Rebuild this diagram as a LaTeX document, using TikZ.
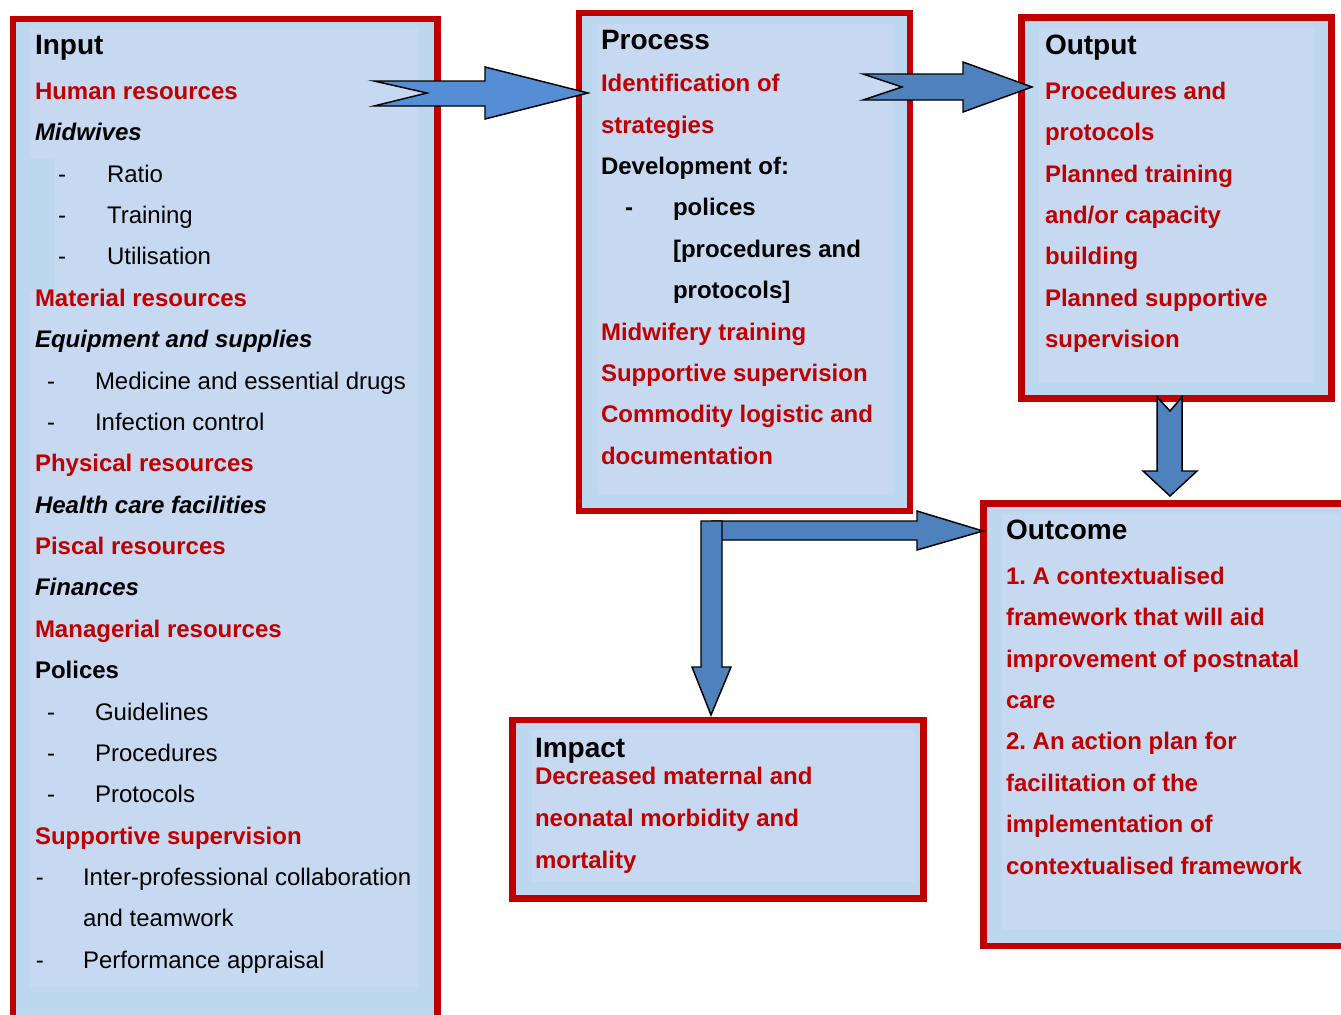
\documentclass[tikz,border=0pt]{standalone}
\usepackage{fontspec}
\setmainfont{Liberation Sans}
\frenchspacing
\definecolor{framered}{HTML}{C00000}
\definecolor{boxfill}{HTML}{BDD7EE}
\definecolor{panelfill}{HTML}{C6D9F0}
\definecolor{arrowlight}{HTML}{558ED5}
\definecolor{arrowblue}{HTML}{4F81BD}
\definecolor{txtred}{HTML}{C00000}

\tikzset{
  frame/.style={draw=framered, line width=4.9pt, fill=boxfill},
  panel/.style={fill=panelfill, draw=none},
  blockarrow/.style={draw=black, line width=1.1pt, line join=miter},
  txt/.style={anchor=base west, inner sep=0pt, outer sep=0pt, font=\fontsize{18}{21.6}\selectfont\frenchspacing},
  boxtitle/.style={txt, font=\fontsize{21}{25}\selectfont\bfseries},
  redline/.style={txt, text=txtred, font=\fontsize{18}{21.6}\selectfont\bfseries\frenchspacing},
  subhead/.style={txt, font=\fontsize{18}{21.6}\selectfont\bfseries\itshape},
  boldline/.style={txt, font=\fontsize{18}{21.6}\selectfont\bfseries},
}

\begin{document}
\begin{tikzpicture}[x=0.75pt, y=-0.75pt]
\useasboundingbox (0,0) rectangle (1341,1014);
\clip (0,0) rectangle (1341,1014);

% ---------- frames ----------
\draw[frame] (13,19) rectangle (437.5,1040);
\draw[frame] (579,13) rectangle (910,511);
\draw[frame] (1021.5,17.5) rectangle (1331.5,398.5);
\draw[frame] (983.5,503.5) rectangle (1360,946);
\draw[frame] (512.5,720) rectangle (923.5,898.5);

% lighter text panels inside the frames
\fill[panel] (30,29) -- (418,29) -- (418,987) -- (30,987) -- (30,290) -- (55,290) -- (55,158) -- (30,158) -- cycle;
\fill[panel] (597,24) rectangle (893,495);
\fill[panel] (1039,28) rectangle (1314,383);
\fill[panel] (1002,515) rectangle (1341,930);
\fill[panel] (532,730) rectangle (915,882);

% ---------- Input ----------
\node[boxtitle] (intitle) at (35,54.3) {Input};
\node[redline] (in1) at (35,99.3) {Human resources};
\node[subhead] (in2) at (35,140.7) {Midwives};
\node[txt] (in3d) at (58,182.1) {-};
\node[txt] (in3) at (107,182.1) {Ratio};
\node[txt] (in4d) at (58,223.4) {-};
\node[txt] (in4) at (107,223.4) {Training};
\node[txt] (in5d) at (58,264.8) {-};
\node[txt] (in5) at (107,264.8) {Utilisation};
\node[redline] (in6) at (35,306.2) {Material resources};
\node[subhead] (in7) at (35,347.6) {Equipment and supplies};
\node[txt] (in8d) at (47,389.0) {-};
\node[txt] (in8) at (95,389.0) {Medicine and essential drugs};
\node[txt] (in9d) at (47,430.3) {-};
\node[txt] (in9) at (95,430.3) {Infection control};
\node[redline] (in10) at (35,471.7) {Physical resources};
\node[subhead] (in11) at (35,513.1) {Health care facilities};
\node[redline] (in12) at (35,554.5) {Piscal resources};
\node[subhead] (in13) at (35,595.9) {Finances};
\node[redline] (in14) at (35,637.2) {Managerial resources};
\node[boldline] (in15) at (35,678.6) {Polices};
\node[txt] (in16d) at (47,720.0) {-};
\node[txt] (in16) at (95,720.0) {Guidelines};
\node[txt] (in17d) at (47,761.4) {-};
\node[txt] (in17) at (95,761.4) {Procedures};
\node[txt] (in18d) at (47,802.8) {-};
\node[txt] (in18) at (95,802.8) {Protocols};
\node[redline] (in19) at (35,844.1) {Supportive supervision};
\node[txt] (in20d) at (36,885.5) {-};
\node[txt] (in20) at (83,885.5) {Inter-professional collaboration};
\node[txt] (in21) at (83,926.9) {and teamwork};
\node[txt] (in22d) at (36,968.3) {-};
\node[txt] (in22) at (83,968.3) {Performance appraisal};

% ---------- Process ----------
\node[boxtitle] (prtitle) at (601,49.3) {Process};
\node[redline] (pr1) at (601,91.7) {Identification of};
\node[redline] (pr2) at (601,133.1) {strategies};
\node[boldline] (pr3) at (601,174.5) {Development of:};
\node[boldline] (pr4d) at (625,215.9) {-};
\node[boldline] (pr4) at (673,215.9) {polices};
\node[boldline] (pr5) at (673,257.3) {[procedures and};
\node[boldline] (pr6) at (673,298.7) {protocols]};
\node[redline] (pr7) at (601,340.1) {Midwifery training};
\node[redline] (pr8) at (601,381.5) {Supportive supervision};
\node[redline] (pr9) at (601,422.9) {Commodity logistic and};
\node[redline] (pr10) at (601,464.3) {documentation};

% ---------- Output ----------
\node[boxtitle] (outtitle) at (1045,54.3) {Output};
\node[redline] (out1) at (1045,99.3) {Procedures and};
\node[redline] (out2) at (1045,140.7) {protocols};
\node[redline] (out3) at (1045,182.1) {Planned training};
\node[redline] (out4) at (1045,223.5) {and/or capacity};
\node[redline] (out5) at (1045,264.9) {building};
\node[redline] (out6) at (1045,306.3) {Planned supportive};
\node[redline] (out7) at (1045,347.7) {supervision};

% ---------- Outcome ----------
\node[boxtitle] (octitle) at (1006,539) {Outcome};
\node[redline] (oc1) at (1006,584.3) {1.\ A contextualised};
\node[redline] (oc2) at (1006,625.7) {framework that will aid};
\node[redline] (oc3) at (1006,667.1) {improvement of postnatal};
\node[redline] (oc4) at (1006,708.5) {care};
\node[redline] (oc5) at (1006,749.9) {2.\ An action plan for};
\node[redline] (oc6) at (1006,791.3) {facilitation of the};
\node[redline] (oc7) at (1006,832.7) {implementation of};
\node[redline] (oc8) at (1006,874.1) {contextualised framework};

% ---------- Impact ----------
\node[boxtitle] (imtitle) at (535,757.3) {Impact};
\node[redline] (im1) at (535,784.5) {Decreased maternal and};
\node[redline] (im2) at (535,826.7) {neonatal morbidity and};
\node[redline] (im3) at (535,868.3) {mortality};

% ---------- block arrows ----------
% Input -> Process (notched tail)
\draw[blockarrow, fill=arrowlight] (374,81) -- (485,81) -- (485,67) -- (588,93)
  -- (485,119) -- (485,106) -- (374,106) -- (427,93) -- cycle;
% Process -> Output (notched tail)
\draw[blockarrow, fill=arrowblue] (863,74) -- (963,74) -- (963,62) -- (1032,87)
  -- (963,112) -- (963,100) -- (863,100) -- (902,87) -- cycle;
% Output -> Outcome (downward, notched tail)
\draw[blockarrow, fill=arrowblue] (1157,397) -- (1170,411) -- (1182,397) -- (1182,471)
  -- (1197,471) -- (1170,496) -- (1143,471) -- (1157,471) -- cycle;
% Process -> Outcome (horizontal branch)
\draw[blockarrow, fill=arrowblue] (712,521) -- (917,521) -- (917,511) -- (983,531)
  -- (917,550) -- (917,540) -- (712,540) -- cycle;
% Process -> Impact (vertical branch)
\draw[blockarrow, fill=arrowblue] (701,521) -- (722,521) -- (722,667) -- (731,667)
  -- (711,715) -- (692,667) -- (701,667) -- cycle;
\end{tikzpicture}
\end{document}
